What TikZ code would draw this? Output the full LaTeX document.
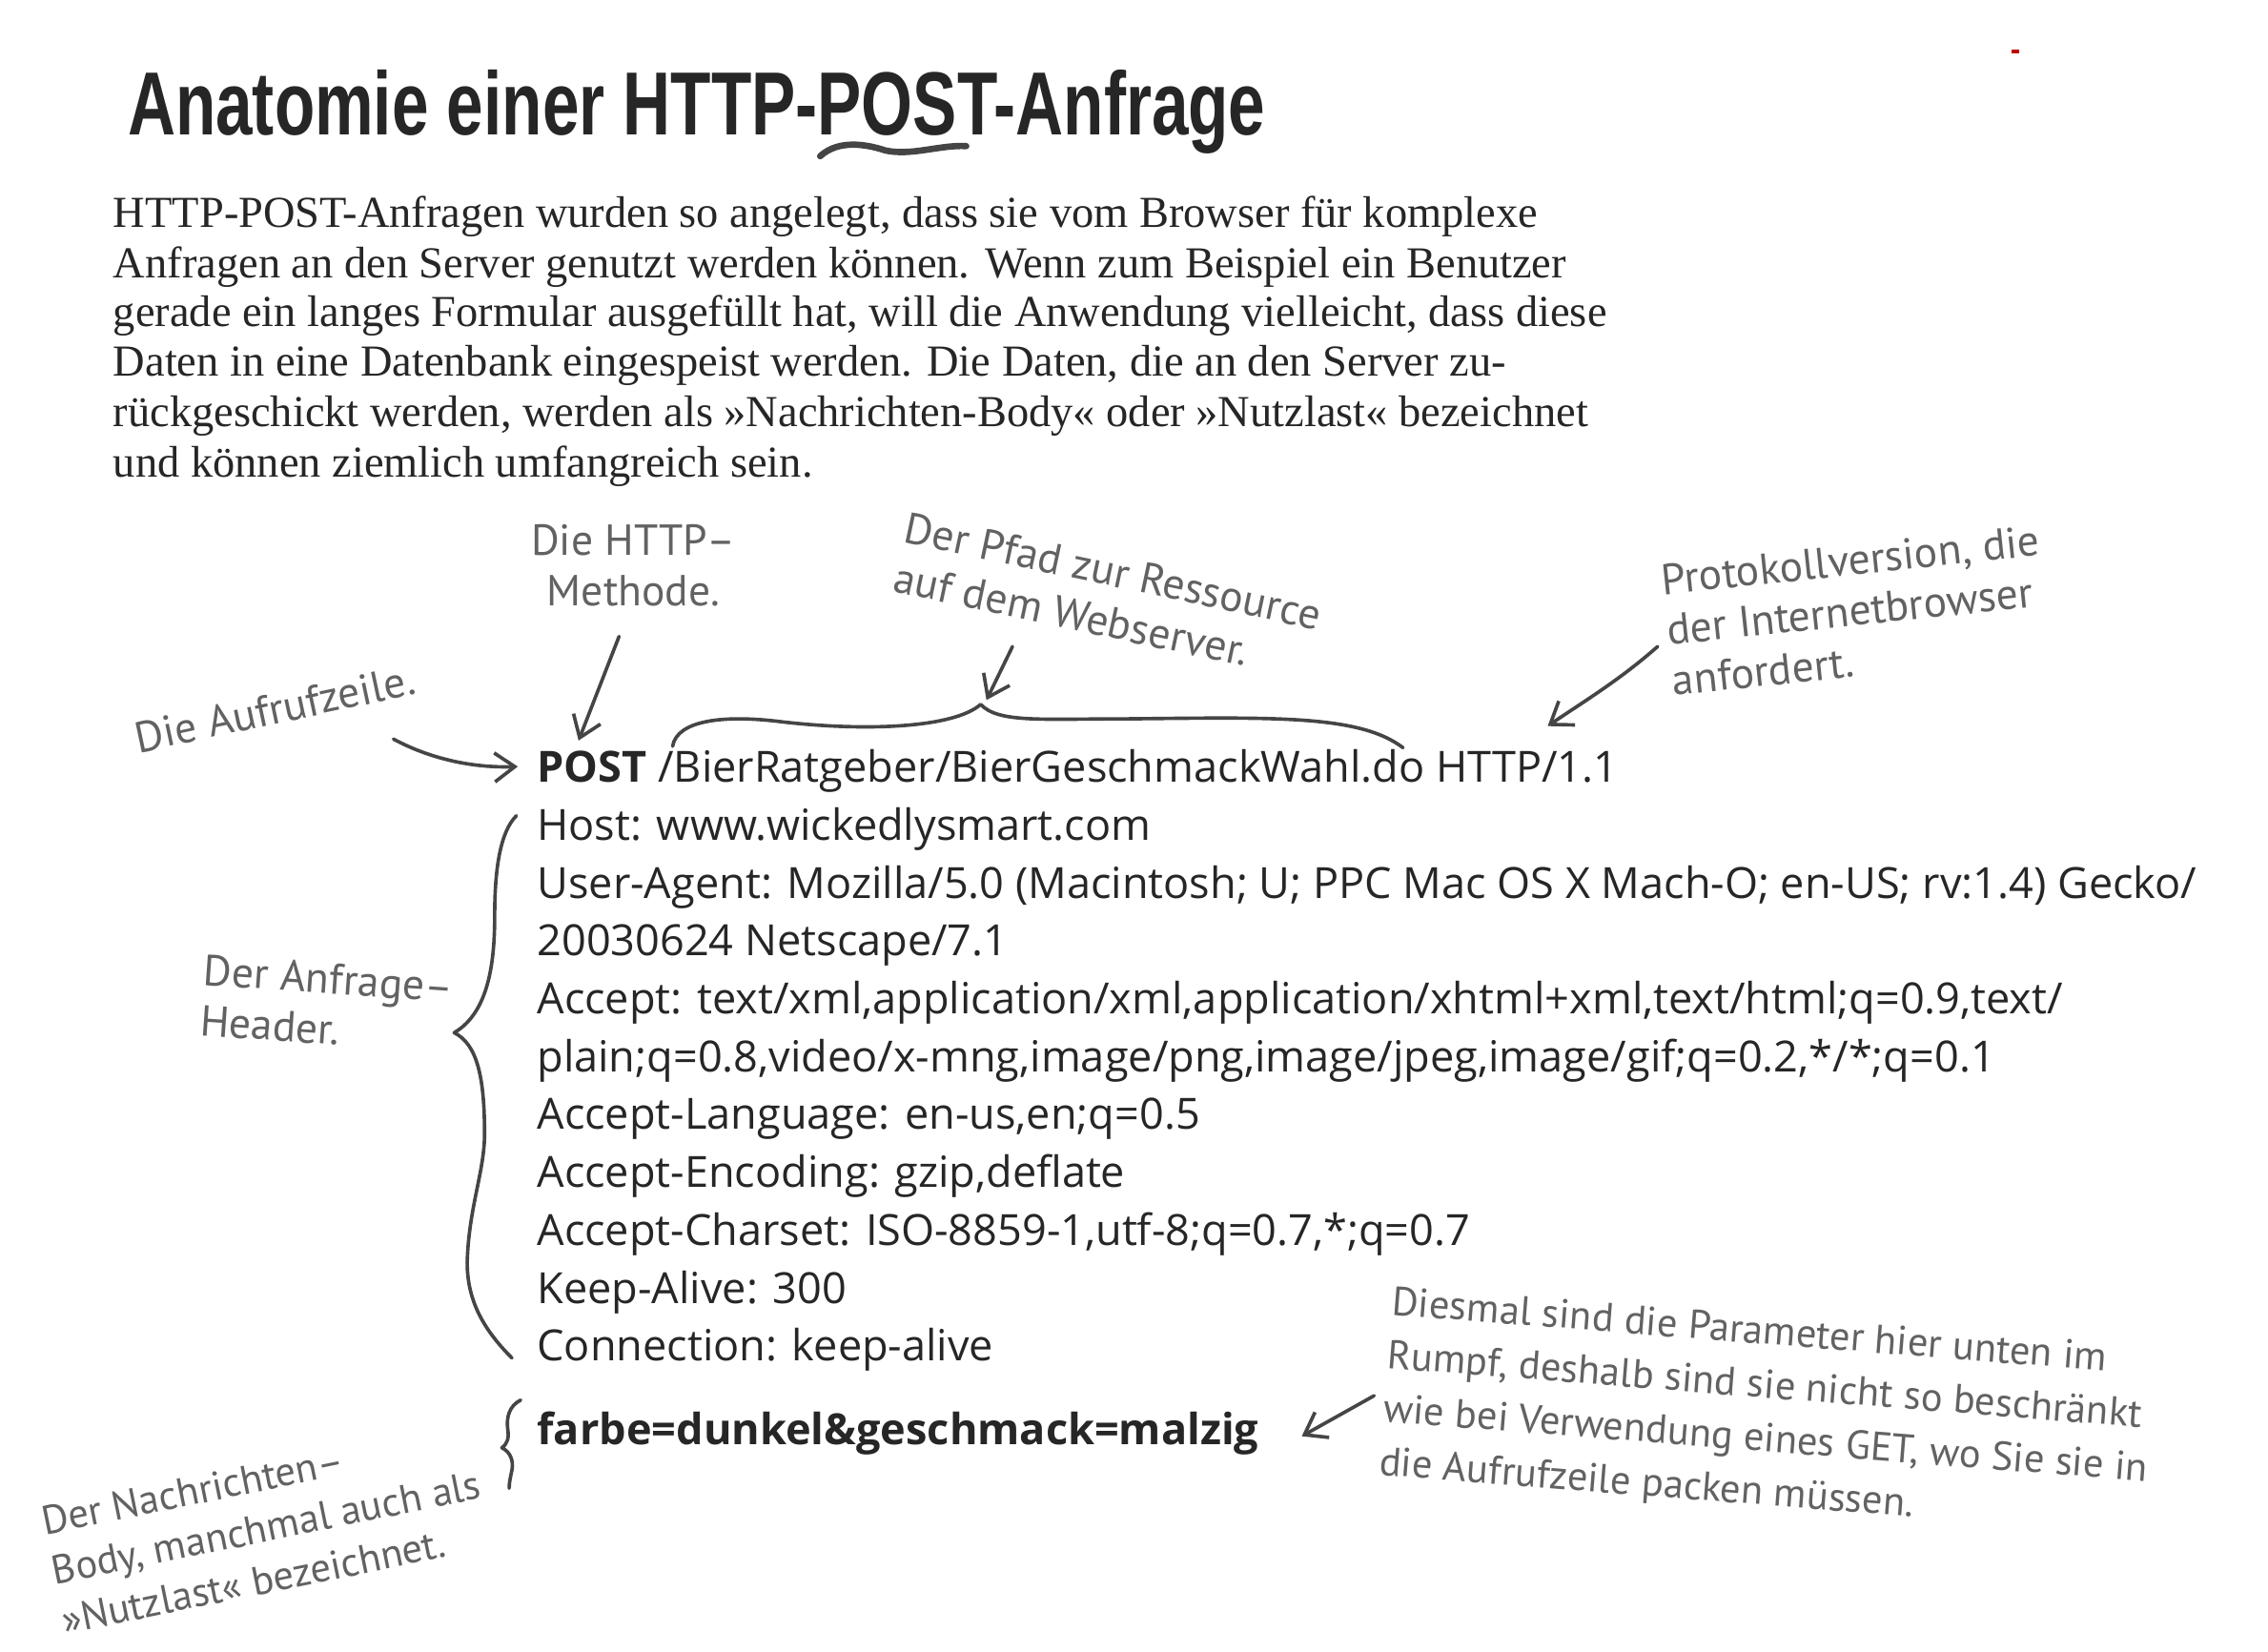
\documentclass[tikz,border=0pt]{standalone}
\usepackage{fontspec}
\setmainfont{Liberation Serif}
\newfontfamily\handf{PT Sans}
\newfontfamily\codef{Open Sans}
\newfontfamily\titlef{Liberation Sans}
\usetikzlibrary{arrows.meta}
\definecolor{ink}{HTML}{262626}
\definecolor{pencil}{HTML}{626262}
\definecolor{stroke}{HTML}{454545}
\tikzset{
  codeline/.style={anchor=base west, inner sep=0pt, text=ink, font=\codef\fontsize{14.85}{16}\selectfont},
  parline/.style={anchor=base west, inner sep=0pt, text=ink, font=\fontsize{15.3}{17}\selectfont},
  note/.style={text=pencil, inner sep=0pt, align=left, font=\handf\fontsize{15}{17.5}\selectfont},
  pen/.style={draw=stroke, line width=1.2pt, line cap=round, line join=round},
  penarrow/.style={pen, -{Straight Barb[length=7pt,width=10pt]}},
}
\begin{document}
\begin{tikzpicture}[x=0.5pt,y=-0.5pt]
\useasboundingbox (0,0) rectangle (1568,1142);
\fill[white] (0,0) rectangle (1568,1142);
\fill[red!75!black] (1391,34) rectangle (1396,37);

% title
\node[anchor=base west, inner sep=0pt, text=ink] (title) at (88,93)
  {\titlef\bfseries\fontsize{31}{32}\selectfont\scalebox{0.7365}[1]{Anatomie einer HTTP-POST-Anfrage}};
\draw[pen, line width=2.2pt] (567,108) .. controls (580,96) and (600,100) .. (612,104) .. controls (630,108) and (650,100) .. (668,101);

% paragraph
\node[parline] (p1) at (78,157) {HTTP-POST-Anfragen wurden so angelegt, dass sie vom Browser für komplexe};
\node[parline] (p2) at (78,192) {Anfragen an den Server genutzt werden können. Wenn zum Beispiel ein Benutzer};
\node[parline] (p3) at (78,226) {gerade ein langes Formular ausgefüllt hat, will die Anwendung vielleicht, dass diese};
\node[parline] (p4) at (78,260) {Daten in eine Datenbank eingespeist werden. Die Daten, die an den Server zu-};
\node[parline] (p5) at (78,295) {rückgeschickt werden, werden als »Nachrichten-Body« oder »Nutzlast« bezeichnet};
\node[parline] (p6) at (78,330) {und können ziemlich umfangreich sein.};

% request lines
\node[codeline] (l0) at (371,541) {\textbf{POST} /BierRatgeber/BierGeschmackWahl.do HTTP/1.1};
\node[codeline] (l1) at (371,581) {Host: www.wickedlysmart.com};
\node[codeline] (l2) at (371,621) {User-Agent: Mozilla/5.0 (Macintosh; U; PPC Mac OS X Mach-O; en-US; rv:1.4) Gecko/};
\node[codeline] (l3) at (371,661) {20030624 Netscape/7.1};
\node[codeline] (l4) at (371,701) {Accept: text/xml,application/xml,application/xhtml+xml,text/html;q=0.9,text/};
\node[codeline] (l5) at (371,741) {plain;q=0.8,video/x-mng,image/png,image/jpeg,image/gif;q=0.2,*/*;q=0.1};
\node[codeline] (l6) at (371,781) {Accept-Language: en-us,en;q=0.5};
\node[codeline] (l7) at (371,821) {Accept-Encoding: gzip,deflate};
\node[codeline] (l8) at (371,861) {Accept-Charset: ISO-8859-1,utf-8;q=0.7,*;q=0.7};
\node[codeline] (l9) at (371,901) {Keep-Alive: 300};
\node[codeline] (l10) at (371,941) {Connection: keep-alive};
\node[codeline] (body) at (371,999) {\textbf{farbe=dunkel\&geschmack=malzig}};

% annotations
\node[note, align=center] (meth) at (438,391) {Die HTTP–\\Methode.};
\node[note, rotate=-12] (pfad) at (766,412) {Der Pfad zur Ressource\\auf dem Webserver.};
\node[note, rotate=6] (prot) at (1283,422) {Protokollversion, die\\der Internetbrowser\\anfordert.};
\node[note, rotate=12] (aufr) at (190,490) {Die Aufrufzeile.};
\node[note, rotate=-4] (head) at (226,694) {Der Anfrage–\\Header.};
\node[note, rotate=11.5, font=\handf\fontsize{14}{17.5}\selectfont] (nach) at (184,1056) {Der Nachrichten–\\Body, manchmal auch als\\»Nutzlast« bezeichnet.};
\node[note, rotate=-4.5, font=\handf\fontsize{14}{18.5}\selectfont] (dies) at (1222,978) {Diesmal sind die Parameter hier unten im\\Rumpf, deshalb sind sie nicht so beschränkt\\wie bei Verwendung eines GET, wo Sie sie in\\die Aufrufzeile packen müssen.};

% arrow end coordinates
\coordinate (tMeth) at (400,512);
\coordinate (tPfad) at (682,484);
\coordinate (tProt) at (1070,502);
\coordinate (tAufr) at (358,530);
\coordinate (tBody) at (900,993);
\coordinate (sMeth) at (428,440);
\coordinate (sPfad) at (700,447);
\coordinate (sProt) at (1146,447);
\coordinate (sAufr) at (272,511);
\coordinate (sDies) at (950,965);

\draw[penarrow] (sMeth) -- (tMeth);
\draw[penarrow] (sPfad) -- (tPfad);
\draw[penarrow] (sProt) .. controls (1120,470) and (1095,485) .. (tProt);
\draw[penarrow] (sAufr) .. controls (300,526) and (330,531) .. (tAufr);
\draw[penarrow] (sDies) -- (tBody);

% brace over the path
\draw[pen] (465,516) .. controls (468,498) and (500,494) .. (540,499)
  .. controls (600,506) and (660,503) .. (678,487)
  .. controls (690,500) and (720,497) .. (780,497)
  .. controls (880,496) and (940,494) .. (970,517);

% header brace
\draw[pen] (357,564) .. controls (346,575) and (342,600) .. (342,633)
  .. controls (342,665) and (338,700) .. (314,714)
  .. controls (330,722) and (335,745) .. (335,784)
  .. controls (335,810) and (324,835) .. (323,873)
  .. controls (323,900) and (335,920) .. (354,939);

% body brace
\draw[pen] (360,968) .. controls (352,972) and (350,980) .. (351,988)
  .. controls (352,994) and (351,998) .. (347,1001)
  .. controls (353,1004) and (355,1010) .. (354,1016)
  .. controls (353,1021) and (352,1025) .. (352,1029);
\end{tikzpicture}
\end{document}
